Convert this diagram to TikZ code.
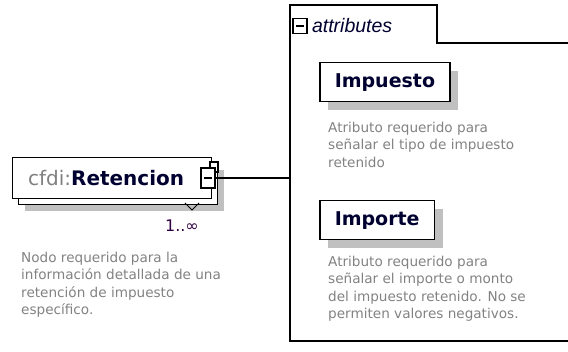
\documentclass[tikz,border=0pt]{standalone}
\usepackage{fontspec}
\setmainfont{Liberation Sans}
\newfontfamily\tahfont{DejaVu Sans}
\usetikzlibrary{positioning,shadows}

\definecolor{desctext}{RGB}{130,130,130}
\definecolor{shadegray}{RGB}{192,192,192}
\definecolor{darknavy}{RGB}{0,0,48}
\definecolor{multtext}{RGB}{48,0,64}

\begin{document}
\begin{tikzpicture}[x=1pt,y=-1pt,
	elembox/.style={draw=black,line width=1.5pt,fill=white,inner xsep=15pt,
		minimum height=39pt,anchor=north west,text=darknavy,
		font=\tahfont\bfseries\fontsize{19}{19}\selectfont,
		drop shadow={shadow xshift=8pt,shadow yshift=-8pt,fill=shadegray,opacity=1}},
	minusbox/.style={draw=black,line width=1.6pt,fill=white,inner sep=0pt,
		minimum width=14pt,minimum height=15pt,
		path picture={\draw[line width=1.1pt]
			([xshift=3pt]path picture bounding box.west) --
			([xshift=-3pt]path picture bounding box.east);}},
	desc/.style={anchor=north west,align=left,inner sep=0pt,text=desctext,
		font=\tahfont\fontsize{13.6}{17.3}\selectfont},
	frameline/.style={draw=black,line width=1.3pt},
	conn/.style={draw=black,line width=1.2pt}]
	\useasboundingbox (0,0) rectangle (568,352);
	\clip (0,0) rectangle (568,352);

	% element cfdi:Retencion
	\node[draw=black,line width=1.2pt,fill=white,anchor=north west,
		minimum width=199pt,minimum height=41pt,inner sep=0pt,
		drop shadow={shadow xshift=12pt,shadow yshift=-12pt,fill=shadegray,opacity=1},
		copy shadow={shadow xshift=6pt,shadow yshift=-6pt},
		font=\tahfont\fontsize{20}{20}\selectfont] (ret) at (12,157)
		{\hspace*{-12pt}\textcolor{gray}{cfdi:}\textcolor{darknavy}{\bfseries Retencion}};
	\draw[line width=1pt] (185,203) -- (192,210) -- (199,203);
	\draw[line width=1.1pt,fill=white] (210,162) rectangle (218,172);
	\node[minusbox,minimum height=20pt] (retbtn) at (208,178) {};
	\node[anchor=east,inner sep=0pt,text=multtext,
		font=\tahfont\fontsize{16}{16}\selectfont] (retmult) at (199,226) {1..∞};
	\node[desc] (retdesc) at (21,252)
		{Nodo requerido para la\\información detallada de una\\retención de impuesto\\específico.};

	% attributes frame
	\coordinate (frameL) at (290,178);
	\draw[frameline] (580,341) -- (290,341) -- (290,5) -- (437,5) -- (437,43) -- (580,43);
	\node[minusbox] (attbtn) at (300,26) {};
	\node[right=4pt of attbtn,inner sep=0pt,text=darknavy,
		font=\itshape\fontsize{19.5}{19.5}\selectfont] (atttab) {attributes};
	\draw[conn] (retbtn.east) -- (retbtn.east -| frameL);

	% attribute Impuesto
	\node[elembox] (impuesto) at (319,62) {Impuesto};
	\node[desc] (impdesc) at (328,122)
		{Atributo requerido para\\señalar el tipo de impuesto\\retenido};

	% attribute Importe
	\node[elembox] (importe) at (319,200) {Importe};
	\node[desc] (impodesc) at (328,256)
		{Atributo requerido para\\señalar el importe o monto\\del impuesto retenido. No se\\permiten valores negativos.};
\end{tikzpicture}
\end{document}
